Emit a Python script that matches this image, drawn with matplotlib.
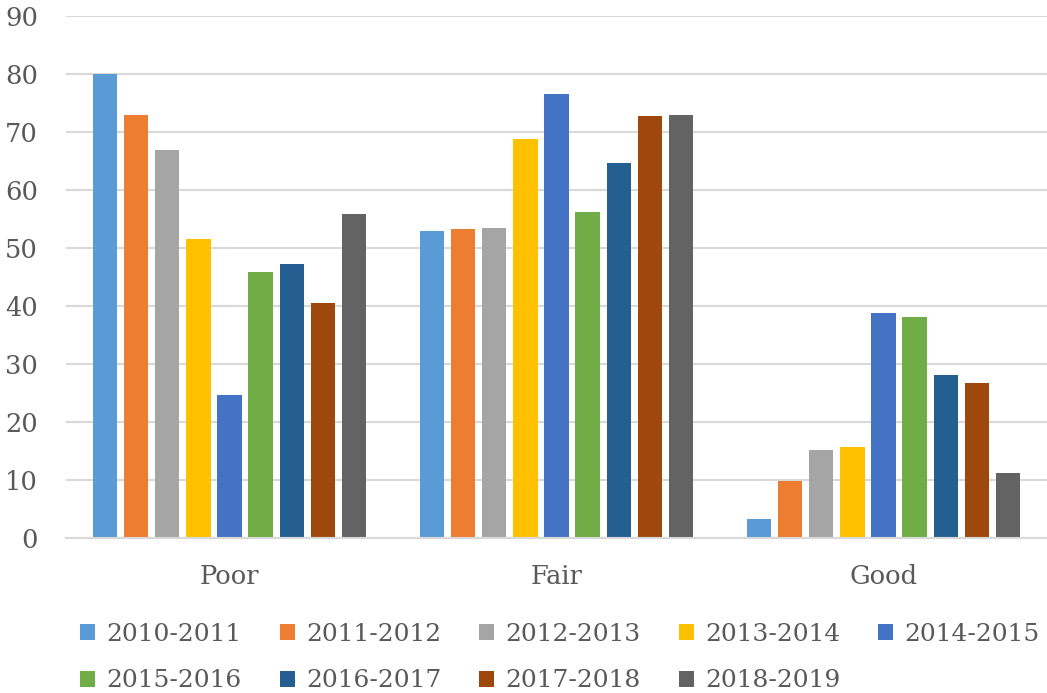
import numpy as np
import matplotlib.pyplot as plt

categories = ['Poor', 'Fair', 'Good']
seasons = ['2010-2011', '2011-2012', '2012-2013', '2013-2014', '2014-2015',
           '2015-2016', '2016-2017', '2017-2018', '2018-2019']

# значения по сезонам: Poor, Fair, Good
v_2010 = [80.0, 52.9, 3.3]
v_2011 = [72.9, 53.2, 9.8]
v_2012 = [66.9, 53.5, 15.2]
v_2013 = [51.5, 68.7, 15.7]
v_2014 = [24.7, 76.5, 38.8]
v_2015 = [45.9, 56.2, 38.0]
v_2016 = [47.2, 64.7, 28.0]
v_2017 = [40.5, 72.7, 26.7]
v_2018 = [55.9, 72.9, 11.2]
values = [v_2010, v_2011, v_2012, v_2013, v_2014, v_2015, v_2016, v_2017, v_2018]

colors = ['#5b9bd5', '#ed7d31', '#a5a5a5', '#ffc000', '#4472c4',
          '#70ad47', '#255e91', '#9e480e', '#636363']

plt.rcParams['font.family'] = ['DejaVu Serif']
text_color = '#595959'

fig = plt.figure(figsize=(10.47, 6.93), dpi=100)
ax = fig.add_axes([0.063, 0.224, 0.937, 0.753])

x = np.arange(len(categories))
pitch = 0.095
width = 0.074
for i, (name, vals) in enumerate(zip(seasons, values)):
    offset = (i - 4) * pitch
    ax.bar(x + offset, vals, width, color=colors[i], label=name, zorder=3)

ax.set_xlim(-0.5, 2.5)
ax.set_ylim(0, 90)
ax.set_yticks(range(0, 91, 10))
ax.yaxis.grid(True, color='#d9d9d9', linewidth=1.5, zorder=0)
for s in ['top', 'right', 'left']:
    ax.spines[s].set_visible(False)
ax.spines['bottom'].set_color('#d9d9d9')
ax.spines['bottom'].set_linewidth(1.5)
ax.spines['bottom'].set_zorder(4)
ax.tick_params(axis='both', length=0, labelsize=18.5, colors=text_color)
ax.tick_params(axis='y', pad=20)
ax.tick_params(axis='x', pad=19)
ax.set_xticks(x)
ax.set_xticklabels(categories)

# легенда заполняется по строкам
handles, labels = ax.get_legend_handles_labels()
order = [0, 5, 1, 6, 2, 7, 3, 8, 4]
fig.legend([handles[k] for k in order], [labels[k] for k in order],
           loc='upper center', bbox_to_anchor=(0.535, 0.134), ncol=5, frameon=False,
           fontsize=18, labelcolor=text_color, handlelength=0.6, handleheight=0.6,
           handletextpad=0.45, columnspacing=1.52, labelspacing=0.95)

plt.savefig('out.png', dpi=100)
